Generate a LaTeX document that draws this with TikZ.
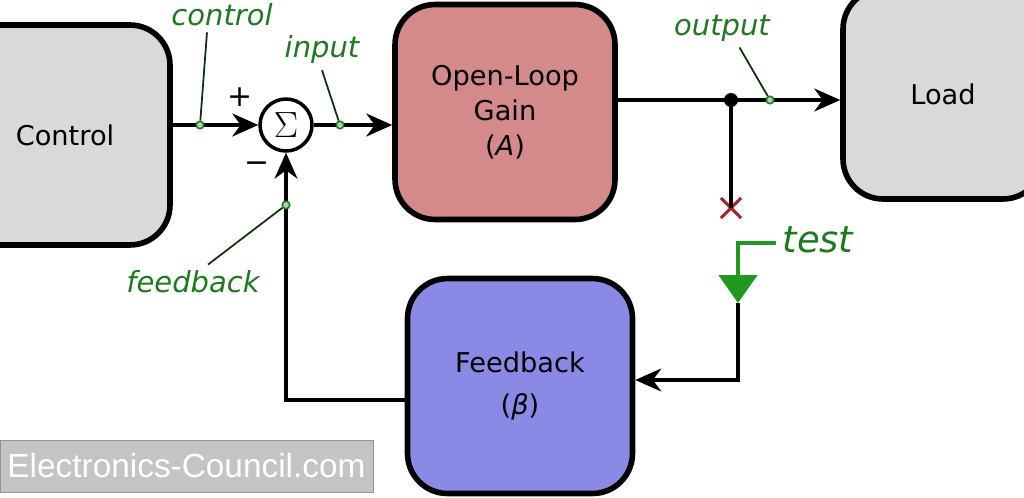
\documentclass[tikz,border=0pt]{standalone}
\usepackage{fontspec}
\setmainfont{DejaVu Sans}
\newfontfamily\wmfont{Liberation Sans}
\usetikzlibrary{arrows.meta,shapes.misc}
\definecolor{ctrlgray}{HTML}{D9D9D9}
\definecolor{gainred}{HTML}{D4898B}
\definecolor{fbblue}{HTML}{8A8AE6}
\definecolor{lblgreen}{HTML}{1E7A1E}
\definecolor{testgreen}{HTML}{1F9A1F}
\definecolor{crossred}{HTML}{B01E2A}
\definecolor{wmgray}{HTML}{C4C4C4}

\begin{document}
\begin{tikzpicture}[x=0.02cm,y=-0.02cm,font=\fontsize{15.5}{20}\selectfont,
  blk/.style={draw,line width=3.2pt,rounded corners=0.8cm,align=center},
  wire/.style={line width=2pt},
  tip/.style={-{Stealth[length=0.52cm,width=0.46cm]}},
  lbl/.style={text=lblgreen,font=\fontsize{16.5}{20}\selectfont\itshape},
  lead/.style={line width=1pt,draw=black!60!lblgreen},
  tap/.style={circle,draw=lblgreen,fill=lblgreen!35,inner sep=0pt,minimum size=0.15cm,line width=0.9pt}]
\useasboundingbox (0,0) rectangle (1024,497);

% --- blocks ---
\node[blk,fill=ctrlgray,minimum width=4.2cm,minimum height=4.4cm] (ctrl) at (65,135) {Control};
\node[blk,fill=gainred,minimum width=4.4cm,minimum height=4.3cm] (gain) at (505,112) {Open-Loop\\Gain\\(\textit{A})};
\node[blk,fill=ctrlgray,minimum width=4cm,minimum height=4.2cm] (load) at (943,94) {Load};
\node[blk,fill=fbblue,minimum width=4.5cm,minimum height=4.3cm] (fb) at (520,386) {Feedback\\[4pt](\textit{β})};
\node[circle,draw,line width=2pt,minimum size=1.04cm,inner sep=0pt,font=\fontsize{20}{20}\selectfont] (sum) at (286,125) {$\Sigma$};
\node[font=\fontsize{17}{20}\selectfont] (plus) at (240,97) {+};
\node[font=\fontsize{17}{20}\selectfont] (minus) at (257,167) {−};

% --- forward path ---
\draw[wire,tip] (ctrl.east |- sum) -- (sum.west);
\draw[wire,tip] (sum.east) -- (gain.west |- sum);
\coordinate (split) at (731,100);
\draw[wire] (gain.east |- split) -- (split);
\draw[wire,tip] (split) -- (load.west |- split);
\fill (split) circle (0.14cm);

% --- broken loop and test signal ---
\node[cross out,draw=crossred,line width=1.8pt,minimum size=0.34cm,inner sep=0pt] (brk) at (731,208) {};
\draw[wire] (split) -- (brk.center);
\node[lbl,font=\fontsize{21}{24}\selectfont\itshape] (ltest) at (818,240) {test};
\coordinate (tcorner) at (738,243);
\coordinate (tout) at (738,303);
\draw[line width=2.8pt,draw=testgreen,-{Triangle[length=0.56cm,width=0.76cm]}]
  (ltest.west |- tcorner) -- (tcorner) -- (tout);

% --- feedback path ---
\coordinate (fbturn) at (738,380);
\draw[wire,tip] (tout) -- (fbturn) -- (fb.east |- fbturn);
\coordinate (fbret) at (sum.south |- 0,400);
\draw[wire,tip] (fb.west |- fbret) -- (fbret) -- (sum.south);

% --- signal labels ---
\node[lbl] (lctrl) at (222,15) {control};
\node[tap] (pctrl) at (200,125) {};
\draw[lead] ([xshift=-0.3cm]lctrl.south) -- (pctrl);
\node[lbl] (linp) at (322,50) {input};
\node[tap] (pinp) at (340,125) {};
\draw[lead] (linp.south) -- (pinp);
\node[lbl] (lout) at (722,28) {output};
\node[tap] (pout) at (770,100) {};
\draw[lead] ([xshift=0.35cm]lout.south) -- (pout);
\node[lbl] (lfb) at (193,282) {feedback};
\node[tap] (pfb) at (286,205) {};
\draw[lead] ([xshift=0.3cm]lfb.north) -- (pfb);

% --- watermark ---
\node[fill=wmgray,draw=wmgray!75!black,text=white,minimum width=7.46cm,minimum height=1.04cm,
  inner sep=0pt,font=\wmfont\fontsize{19}{22}\selectfont] (wm) at (186.5,466) {Electronics-Council.com};
\end{tikzpicture}
\end{document}
